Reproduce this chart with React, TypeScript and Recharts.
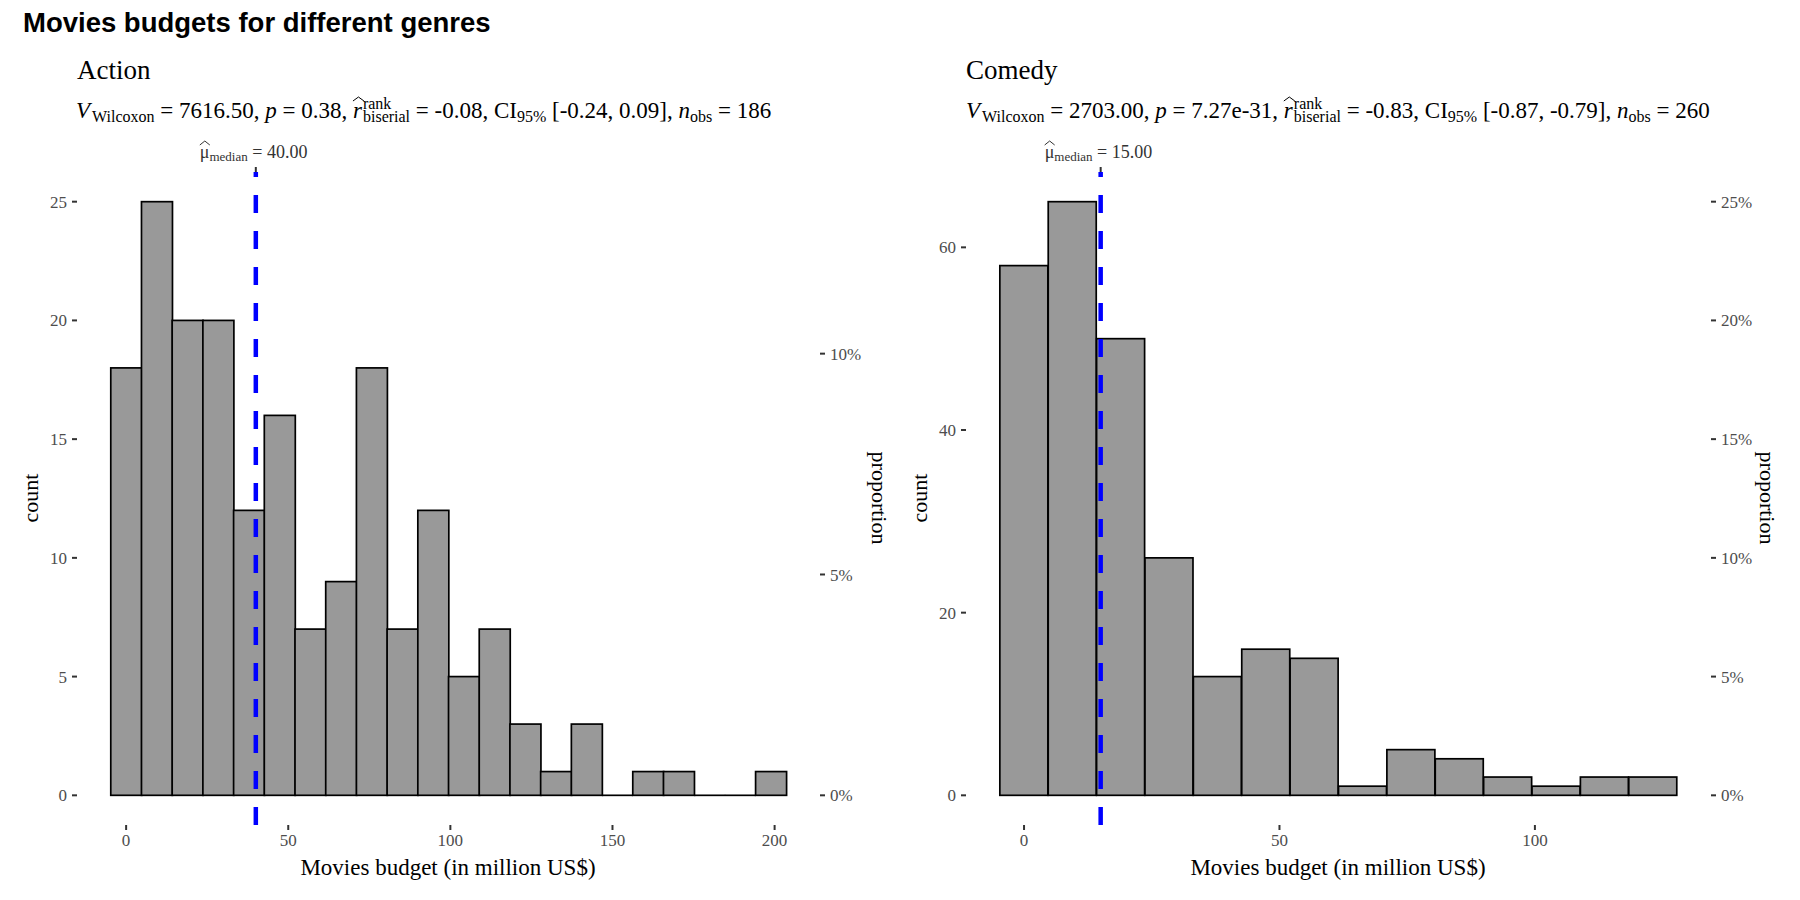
import React, { useLayoutEffect, useRef, useState } from 'react';
import { ComposedChart, Bar, XAxis, YAxis, ReferenceLine } from 'recharts';

// histogram bins (centre of each bin, million US$) and counts
const actionBins = [0, 9.47, 18.94, 28.41, 37.88, 47.35, 56.82, 66.29, 75.76, 85.23, 94.7, 104.17, 113.64, 123.11, 132.58, 142.05, 151.52, 160.99, 170.46, 179.93, 189.4, 198.87];
const actionCounts = [18, 25, 20, 20, 12, 16, 7, 9, 18, 7, 12, 5, 7, 3, 1, 3, 0, 1, 1, 0, 0, 1];
const comedyBins = [0, 9.47, 18.94, 28.41, 37.88, 47.35, 56.82, 66.29, 75.76, 85.23, 94.7, 104.17, 113.64, 123.11];
const comedyCounts = [58, 65, 50, 26, 13, 16, 15, 1, 5, 4, 2, 1, 2, 2];

const actionXTicks = [0, 50, 100, 150, 200];
const comedyXTicks = [0, 50, 100];
const actionCountTicks = [0, 5, 10, 15, 20, 25];
const comedyCountTicks = [0, 20, 40, 60];
const actionPropTicks = [0, 0.05, 0.1];
const comedyPropTicks = [0, 0.05, 0.1, 0.15, 0.2, 0.25];

const SERIF = '"Liberation Serif", "Times New Roman", serif';
const tickStyle = { fill: '#4d4d4d', fontSize: 17, fontFamily: SERIF };
const tickLine = { stroke: '#333333', strokeWidth: 2 };

function HistBar(props: any) {
  const { x, y, width, height } = props;
  if (x == null || y == null || !isFinite(width)) return null;
  if (!height || Math.abs(height) < 0.5) {
    return <line x1={x} x2={x + width} y1={y} y2={y} stroke="#000" strokeWidth={1.7} />;
  }
  return <rect x={x} y={y} width={width} height={height} fill="#999999" stroke="#000" strokeWidth={1.7} />;
}

// little wide hat drawn above a glyph
function Hat({ x, y, w }: { x: number; y: number; w: number }) {
  return <polyline points={`${x},${y + 4} ${x + w / 2},${y} ${x + w},${y + 4}`} fill="none" stroke="currentColor" strokeWidth={1} />;
}

function MedianLabel(props: any) {
  const { viewBox, value } = props;
  if (!viewBox) return null;
  const cx = viewBox.x;
  const top = viewBox.y;
  const start = cx - 56;
  return (
    <g style={{ color: '#333' }}>
      <line x1={cx} x2={cx} y1={top - 5} y2={top} stroke="#333" strokeWidth={2} />
      <Hat x={start} y={top - 31} w={10} />
      <text x={start} y={top - 14} fontFamily={SERIF} fontSize={18} fill="#333">
        <tspan>{'\u03BC'}</tspan>
        <tspan fontSize={13} dy={3}>median</tspan>
        <tspan dy={-3}>{` = ${value}`}</tspan>
      </text>
    </g>
  );
}

type PanelProps = {
  left: number;
  bins: number[];
  counts: number[];
  n: number;
  median: number;
  medianText: string;
  xDomain: [number, number];
  xTicks: number[];
  yMax: number;
  countTicks: number[];
  propTicks: number[];
  margin: { top: number; right: number; bottom: number; left: number };
};

function Panel(p: PanelProps) {
  const data = p.bins.map((b, i) => ({ bin: b, count: p.counts[i] }));
  const lo = -p.yMax * 0.05;
  const hi = p.yMax * 1.05;
  return (
    <div style={{ position: 'absolute', left: p.left, top: 0 }}>
      <ComposedChart width={900} height={900} data={data} margin={p.margin} barCategoryGap={0} barGap={0}>
        <XAxis
          dataKey="bin"
          type="number"
          domain={p.xDomain}
          allowDataOverflow
          ticks={p.xTicks}
          axisLine={false}
          tickLine={tickLine}
          tickSize={5}
          tickMargin={4}
          tick={tickStyle}
          height={40}
        />
        <YAxis
          yAxisId="count"
          type="number"
          domain={[lo, hi]}
          allowDataOverflow
          ticks={p.countTicks}
          axisLine={false}
          tickLine={tickLine}
          tickSize={5}
          tickMargin={5}
          tick={tickStyle}
          width={40}
        />
        <YAxis
          yAxisId="prop"
          orientation="right"
          type="number"
          domain={[lo / p.n, hi / p.n]}
          allowDataOverflow
          ticks={p.propTicks}
          tickFormatter={(v: number) => `${Math.round(v * 100)}%`}
          axisLine={false}
          tickLine={tickLine}
          tickSize={5}
          tickMargin={5}
          tick={tickStyle}
          width={40}
        />
        <Bar yAxisId="count" dataKey="count" shape={HistBar} isAnimationActive={false} />
        <ReferenceLine
          yAxisId="count"
          x={p.median}
          stroke="#0000ff"
          strokeWidth={4.5}
          strokeDasharray="18 18"
          label={<MedianLabel value={p.medianText} />}
        />
      </ComposedChart>
    </div>
  );
}

function Subtitle({ x, y, v, pval, r, ci, n }: { x: number; y: number; v: string; pval: string; r: string; ci: string; n: string }) {
  const ref = useRef<SVGTextElement>(null);
  const [hatX, setHatX] = useState<number | null>(null);
  const before = `VWilcoxon = ${v}, p = ${pval}, `;
  useLayoutEffect(() => {
    const el = ref.current;
    if (!el) return;
    try {
      const s = el.getStartPositionOfChar(before.length);
      const e = el.getEndPositionOfChar(before.length);
      setHatX((s.x + e.x) / 2);
    } catch (err) {
      setHatX(null);
    }
  }, [before]);
  return (
    <g>
      {hatX != null && <Hat x={hatX - 4.5} y={y - 21} w={11} />}
      <text ref={ref} x={x} y={y} fontFamily={SERIF} fontSize={23} fill="#000">
        <tspan fontStyle="italic">V</tspan>
        <tspan fontSize={16} dy={4} dx={2}>Wilcoxon</tspan>
        <tspan dy={-4}>{` = ${v}, `}</tspan>
        <tspan fontStyle="italic">p</tspan>
        <tspan>{` = ${pval}, `}</tspan>
        <tspan fontStyle="italic">r</tspan>
        <tspan fontSize={16} dy={-9} dx={1}>rank</tspan>
        <tspan fontSize={16} dy={13} dx={-28.4}>biserial</tspan>
        <tspan dy={-4}>{` = ${r}, CI`}</tspan>
        <tspan fontSize={16} dy={4}>95%</tspan>
        <tspan dy={-4}>{` ${ci}, `}</tspan>
        <tspan fontStyle="italic">n</tspan>
        <tspan fontSize={16} dy={4}>obs</tspan>
        <tspan dy={-4}>{` = ${n}`}</tspan>
      </text>
    </g>
  );
}

export default function App() {
  return (
    <div style={{ position: 'absolute', left: 0, top: 0, width: 1800, height: 900, background: '#fff', overflow: 'hidden' }}>
      <Panel
        left={0}
        bins={actionBins}
        counts={actionCounts}
        n={186}
        median={40}
        medianText="40.00"
        xDomain={[-15.15, 214.0]}
        xTicks={actionXTicks}
        yMax={25}
        countTicks={actionCountTicks}
        propTicks={actionPropTicks}
        margin={{ top: 172, right: 40, bottom: 35, left: 37 }}
      />
      <Panel
        left={900}
        bins={comedyBins}
        counts={comedyCounts}
        n={260}
        median={15}
        medianText="15.00"
        xDomain={[-11.36, 134.47]}
        xTicks={comedyXTicks}
        yMax={65}
        countTicks={comedyCountTicks}
        propTicks={comedyPropTicks}
        margin={{ top: 172, right: 49, bottom: 35, left: 26 }}
      />
      <svg width={1800} height={900} style={{ position: 'absolute', left: 0, top: 0, pointerEvents: 'none', color: '#000' }}>
        <text x={23} y={32} fontFamily='"Liberation Sans", Arial, sans-serif' fontWeight="bold" fontSize={27.5} fill="#000">
          Movies budgets for different genres
        </text>
        <text x={77} y={79} fontFamily={SERIF} fontSize={27} fill="#000">Action</text>
        <text x={966} y={79} fontFamily={SERIF} fontSize={27} fill="#000">Comedy</text>
        <Subtitle x={76} y={118} v="7616.50" pval="0.38" r="-0.08" ci="[-0.24, 0.09]" n="186" />
        <Subtitle x={966} y={118} v="2703.00" pval="7.27e-31" r="-0.83" ci="[-0.87, -0.79]" n="260" />
        <text x={448} y={875} textAnchor="middle" fontFamily={SERIF} fontSize={23} fill="#000">Movies budget (in million US$)</text>
        <text x={1338} y={875} textAnchor="middle" fontFamily={SERIF} fontSize={23} fill="#000">Movies budget (in million US$)</text>
        <text transform="translate(38,498) rotate(-90)" textAnchor="middle" fontFamily={SERIF} fontSize={22} fill="#000">count</text>
        <text transform="translate(927,498) rotate(-90)" textAnchor="middle" fontFamily={SERIF} fontSize={22} fill="#000">count</text>
        <text transform="translate(872,498) rotate(90)" textAnchor="middle" fontFamily={SERIF} fontSize={22} fill="#000">proportion</text>
        <text transform="translate(1760,498) rotate(90)" textAnchor="middle" fontFamily={SERIF} fontSize={22} fill="#000">proportion</text>
      </svg>
    </div>
  );
}
